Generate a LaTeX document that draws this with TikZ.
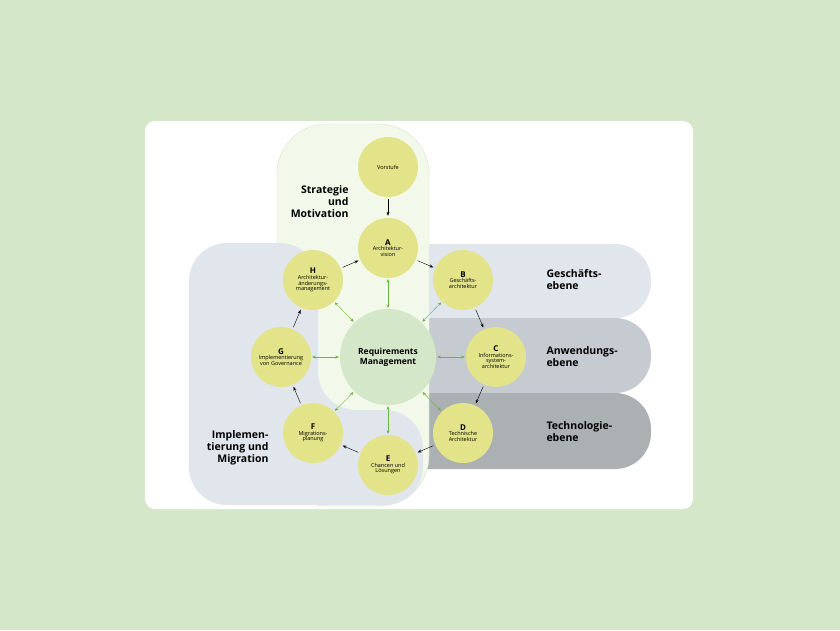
\documentclass[tikz,border=0pt]{standalone}
\usepackage{fontspec}
\setmainfont{Open Sans}
\usetikzlibrary{arrows.meta}
\definecolor{bggreen}{HTML}{D4E7C8}
\definecolor{paleg}{HTML}{F2F9EB}
\definecolor{implg}{HTML}{E1E5EC}
\definecolor{geschg}{HTML}{E1E5EC}
\definecolor{anwg}{HTML}{C6CBD1}
\definecolor{techg}{HTML}{ABB0B3}
\definecolor{phase}{HTML}{E3E48A}
\definecolor{reqc}{HTML}{D4E7C8}
\definecolor{linkg}{HTML}{6DB33F}
\begin{document}
\begin{tikzpicture}[x=1pt,y=-1pt,
    phase/.style={circle, fill=phase, minimum size=60pt, inner sep=0pt, align=center, font=\fontsize{5.5}{5.6}\selectfont},
    req/.style={circle, fill=reqc, minimum size=96pt, inner sep=0pt, align=center, font=\bfseries\fontsize{8.5}{10}\selectfont},
    layer/.style={font=\bfseries\fontsize{10.5}{12}\selectfont, align=left, anchor=west},
    flow/.style={-{Stealth[length=4pt,width=3pt]}, thin, shorten >=2pt, shorten <=2pt},
    link/.style={{Stealth[length=3.5pt,width=3pt]}-{Stealth[length=3.5pt,width=3pt]}, linkg, thin, shorten >=1pt, shorten <=1pt}
]
\fill[bggreen] (0,0) rectangle (840,630);
\fill[white, rounded corners=10] (145,121) rectangle (693,509);

% Ebenen
\fill[geschg, rounded corners=36] (380,244) rectangle (651,318);
\fill[anwg, rounded corners=36] (380,318) rectangle (651,393);
\fill[techg, rounded corners=36] (380,393) rectangle (651,469);
\fill[geschg] (380,244) rectangle (420,318);
\fill[anwg] (380,318) rectangle (420,393);
\fill[techg] (380,393) rectangle (420,469);

% Strategie und Implementierung
\fill[paleg, draw=bggreen, rounded corners=50] (277,124) rectangle (429,506);
\fill[implg, rounded corners=38] (189,505) -- (189,243) -- (318,243) -- (318,410) -- (423,410) -- (423,505) -- cycle;

\node[layer] (gesch) at (543,280) {Geschäfts-\\ebene};
\node[layer] (anw) at (543,357) {Anwendungs-\\ebene};
\node[layer] (tech) at (543,432) {Technologie-\\ebene};
\node[layer, anchor=east, align=right] (strat) at (352,202) {Strategie\\und\\Motivation};
\node[layer, anchor=east, align=right] (impl) at (272,448) {Implemen-\\tierung und\\Migration};

% Phasen
\node[req] (rm) at (388,357) {Requirements\\Management};
\node[phase] (pre) at (388,167) {Vorstufe};
\node[phase] (a) at (388,248) {{\bfseries\fontsize{8}{9}\selectfont A}\\Architektur-\\vision};
\node[phase] (b) at (463,280) {{\bfseries\fontsize{8}{9}\selectfont B}\\Geschäfts-\\architektur};
\node[phase] (c) at (496,357) {{\bfseries\fontsize{8}{9}\selectfont C}\\Informations-\\system-\\architektur};
\node[phase] (d) at (463,433) {{\bfseries\fontsize{8}{9}\selectfont D}\\Technische\\Architektur};
\node[phase] (e) at (388,465) {{\bfseries\fontsize{8}{9}\selectfont E}\\Chancen und\\Lösungen};
\node[phase] (f) at (313,433) {{\bfseries\fontsize{8}{9}\selectfont F}\\Migrations-\\planung};
\node[phase] (g) at (281,357) {{\bfseries\fontsize{8}{9}\selectfont G}\\Implementierung\\von Governance};
\node[phase] (h) at (313,280) {{\bfseries\fontsize{8}{9}\selectfont H}\\Architektur-\\änderungs-\\management};

% Zyklus
\draw[flow] (pre) -- (a);
\draw[flow] (a) -- (b);
\draw[flow] (b) -- (c);
\draw[flow] (c) -- (d);
\draw[flow] (d) -- (e);
\draw[flow] (e) -- (f);
\draw[flow] (f) -- (g);
\draw[flow] (g) -- (h);
\draw[flow] (h) -- (a);
\foreach \p in {a,b,c,d,e,f,g,h}
  \draw[link] (rm) -- (\p);
\end{tikzpicture}
\end{document}
